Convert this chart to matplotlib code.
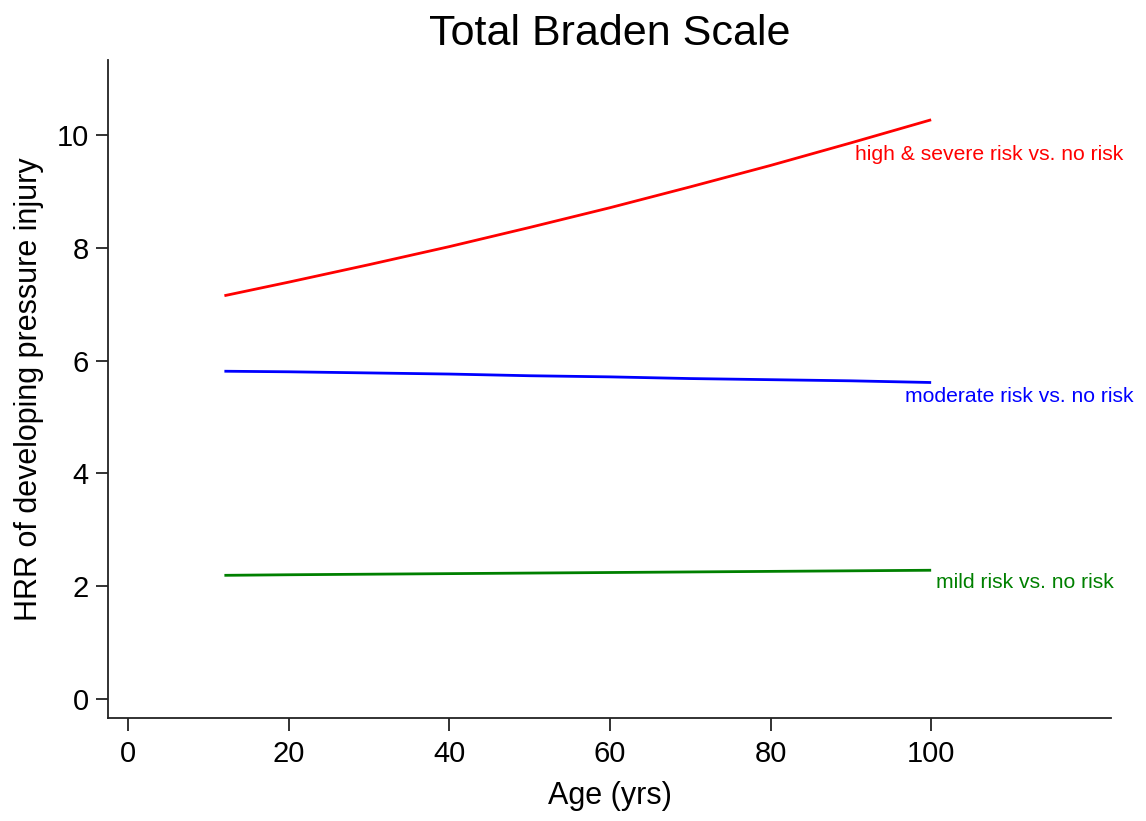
import matplotlib
matplotlib.use("Agg")
import matplotlib.pyplot as plt

plt.rcParams['font.family'] = ['Liberation Sans', 'DejaVu Sans']

# Predicted hazard rate ratios by age for each Braden risk group
ages = [12, 20, 30, 40, 50, 60, 70, 80, 90, 100]
hrr_high = [7.15, 7.39, 7.70, 8.02, 8.36, 8.71, 9.08, 9.46, 9.86, 10.27]
hrr_moderate = [5.81, 5.80, 5.78, 5.76, 5.73, 5.71, 5.68, 5.66, 5.64, 5.61]
hrr_mild = [2.19, 2.20, 2.21, 2.22, 2.23, 2.24, 2.25, 2.26, 2.27, 2.28]

series = [
    (hrr_high, 'red', 'high & severe risk vs. no risk', (90.5, 9.66)),
    (hrr_moderate, 'blue', 'moderate risk vs. no risk', (96.7, 5.37)),
    (hrr_mild, 'green', 'mild risk vs. no risk', (100.6, 2.07)),
]

fig = plt.figure(figsize=(11.46, 8.21), dpi=100)
ax = fig.add_axes([0.0942, 0.1255, 0.8753, 0.8014])

for vals, color, label, (lx, ly) in series:
    ax.plot(ages, vals, color=color, lw=2.0, solid_capstyle='butt')
    ax.text(lx, ly, label, color=color, fontsize=15.2, ha='left', va='center')

ax.set_xlim(-2.5, 122.4)
ax.set_ylim(-0.34, 11.33)
ax.set_xticks([0, 20, 40, 60, 80, 100])
ax.set_yticks([0, 2, 4, 6, 8, 10])

for side in ['top', 'right']:
    ax.spines[side].set_visible(False)
for side in ['left', 'bottom']:
    ax.spines[side].set_linewidth(1.3)
    ax.spines[side].set_color('#222222')

ax.tick_params(axis='both', length=9, width=1.3, color='#222222', labelsize=21)
ax.tick_params(axis='x', pad=7)
ax.tick_params(axis='y', pad=5)

ax.set_title('Total Braden Scale', fontsize=31, pad=11)
ax.set_xlabel('Age (yrs)', fontsize=22, labelpad=9)
ax.set_ylabel('HRR of developing pressure injury', fontsize=22, labelpad=9)

fig.savefig('out.png', dpi=100, facecolor='white')
